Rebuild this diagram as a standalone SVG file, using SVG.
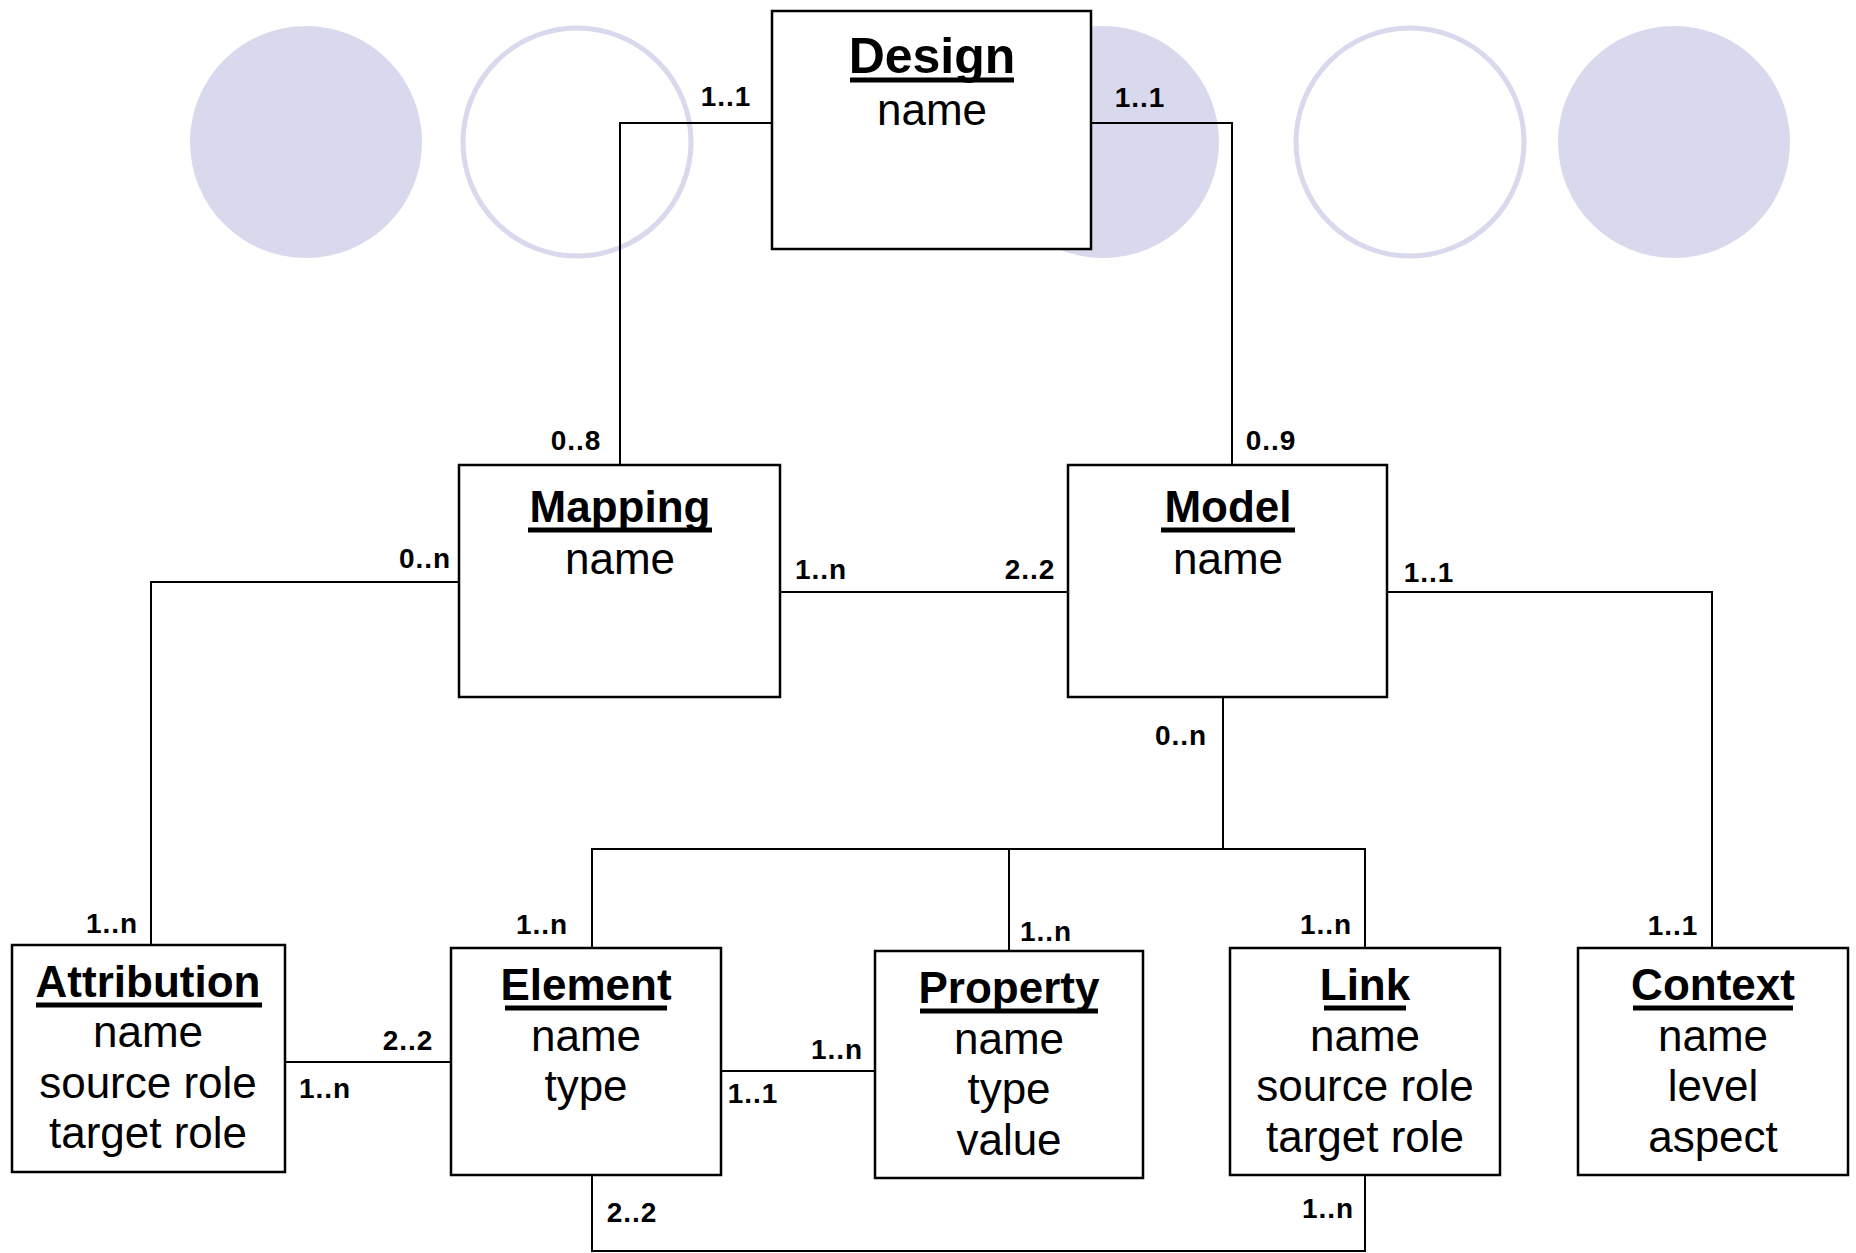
<svg xmlns="http://www.w3.org/2000/svg" width="1856" height="1253" viewBox="0 0 1856 1253">
  <style>
    .bg-fill { fill: #d9d9ed; stroke: none; }
    .bg-ring { fill: none; stroke: #d9d9ed; stroke-width: 5; }
    .box { fill: #ffffff; stroke: #000000; stroke-width: 2.5; }
    .wire { fill: none; stroke: #000000; stroke-width: 2; }
    .title { font-family: "Liberation Sans", Arial, sans-serif; font-weight: bold; font-size: 44px; text-anchor: middle; fill: #000; }
    .attr { font-family: "Liberation Sans", Arial, sans-serif; font-size: 44px; text-anchor: middle; fill: #000; }
    .mult { font-family: "Liberation Sans", Arial, sans-serif; font-weight: bold; font-size: 28px; text-anchor: middle; fill: #000; letter-spacing: 1px; }
    .ul { stroke: #000; stroke-width: 5; }
  </style>

  <!-- decorative background discs -->
  <g id="background">
    <circle class="bg-fill" cx="306" cy="142" r="116"/>
    <circle class="bg-ring" cx="577" cy="142" r="114"/>
    <circle class="bg-fill" cx="1103" cy="142" r="116"/>
    <circle class="bg-ring" cx="1410" cy="142" r="114"/>
    <circle class="bg-fill" cx="1674" cy="142" r="116"/>
  </g>

  <!-- associations -->
  <g id="connectors">
    <polyline class="wire" points="772,123 620,123 620,465"/>
    <polyline class="wire" points="1091,123 1232,123 1232,465"/>
    <polyline class="wire" points="459,582 151,582 151,945"/>
    <line class="wire" x1="780" y1="592" x2="1068" y2="592"/>
    <polyline class="wire" points="1387,592 1712,592 1712,948"/>
    <line class="wire" x1="1223" y1="697" x2="1223" y2="849"/>
    <polyline class="wire" points="592,948 592,849 1365,849 1365,948"/>
    <line class="wire" x1="1009" y1="849" x2="1009" y2="950"/>
    <line class="wire" x1="285" y1="1062" x2="451" y2="1062"/>
    <line class="wire" x1="721" y1="1071" x2="875" y2="1071"/>
    <polyline class="wire" points="592,1175 592,1251 1365,1251 1365,1175"/>

    <!-- multiplicities -->
    <text class="mult" x="726" y="106">1..1</text>
    <text class="mult" x="1140" y="107">1..1</text>
    <text class="mult" x="576" y="450">0..8</text>
    <text class="mult" x="1271" y="450">0..9</text>
    <text class="mult" x="425" y="568">0..n</text>
    <text class="mult" x="821" y="579">1..n</text>
    <text class="mult" x="1030" y="579">2..2</text>
    <text class="mult" x="1429" y="582">1..1</text>
    <text class="mult" x="1181" y="745">0..n</text>
    <text class="mult" x="112" y="933">1..n</text>
    <text class="mult" x="542" y="934">1..n</text>
    <text class="mult" x="1046" y="941">1..n</text>
    <text class="mult" x="1326" y="934">1..n</text>
    <text class="mult" x="1673" y="935">1..1</text>
    <text class="mult" x="408" y="1050">2..2</text>
    <text class="mult" x="325" y="1098">1..n</text>
    <text class="mult" x="837" y="1059">1..n</text>
    <text class="mult" x="753" y="1103">1..1</text>
    <text class="mult" x="632" y="1222">2..2</text>
    <text class="mult" x="1328" y="1218">1..n</text>
  </g>

  <g id="design">
    <rect class="box" x="772" y="11" width="319" height="238"/>
    <text class="title" x="932" y="73" style="font-size:50px">Design</text>
    <line class="ul" x1="850" y1="80" x2="1014" y2="80"/>
    <text class="attr" x="932" y="125">name</text>
  </g>

  <g id="mapping">
    <rect class="box" x="459" y="465" width="321" height="232"/>
    <text class="title" x="620" y="522">Mapping</text>
    <line class="ul" x1="528" y1="530" x2="712" y2="530"/>
    <text class="attr" x="620" y="574">name</text>
  </g>

  <g id="model">
    <rect class="box" x="1068" y="465" width="319" height="232"/>
    <text class="title" x="1228" y="522">Model</text>
    <line class="ul" x1="1161" y1="530" x2="1295" y2="530"/>
    <text class="attr" x="1228" y="574">name</text>
  </g>

  <g id="attribution">
    <rect class="box" x="12" y="945" width="273" height="227"/>
    <text class="title" x="148" y="997">Attribution</text>
    <line class="ul" x1="36" y1="1005" x2="262" y2="1005"/>
    <text class="attr" x="148" y="1047">name</text>
    <text class="attr" x="148" y="1098">source role</text>
    <text class="attr" x="148" y="1148">target role</text>
  </g>

  <g id="element">
    <rect class="box" x="451" y="948" width="270" height="227"/>
    <text class="title" x="586" y="1000">Element</text>
    <line class="ul" x1="505" y1="1008" x2="667" y2="1008"/>
    <text class="attr" x="586" y="1051">name</text>
    <text class="attr" x="586" y="1101">type</text>
  </g>

  <g id="property">
    <rect class="box" x="875" y="951" width="268" height="227"/>
    <text class="title" x="1009" y="1003">Property</text>
    <line class="ul" x1="920" y1="1011" x2="1098" y2="1011"/>
    <text class="attr" x="1009" y="1054">name</text>
    <text class="attr" x="1009" y="1104">type</text>
    <text class="attr" x="1009" y="1155">value</text>
  </g>

  <g id="link">
    <rect class="box" x="1230" y="948" width="270" height="227"/>
    <text class="title" x="1365" y="1000">Link</text>
    <line class="ul" x1="1324" y1="1008" x2="1406" y2="1008"/>
    <text class="attr" x="1365" y="1051">name</text>
    <text class="attr" x="1365" y="1101">source role</text>
    <text class="attr" x="1365" y="1152">target role</text>
  </g>

  <g id="context">
    <rect class="box" x="1578" y="948" width="270" height="227"/>
    <text class="title" x="1713" y="1000">Context</text>
    <line class="ul" x1="1633" y1="1008" x2="1793" y2="1008"/>
    <text class="attr" x="1713" y="1051">name</text>
    <text class="attr" x="1713" y="1101">level</text>
    <text class="attr" x="1713" y="1152">aspect</text>
  </g>
</svg>
